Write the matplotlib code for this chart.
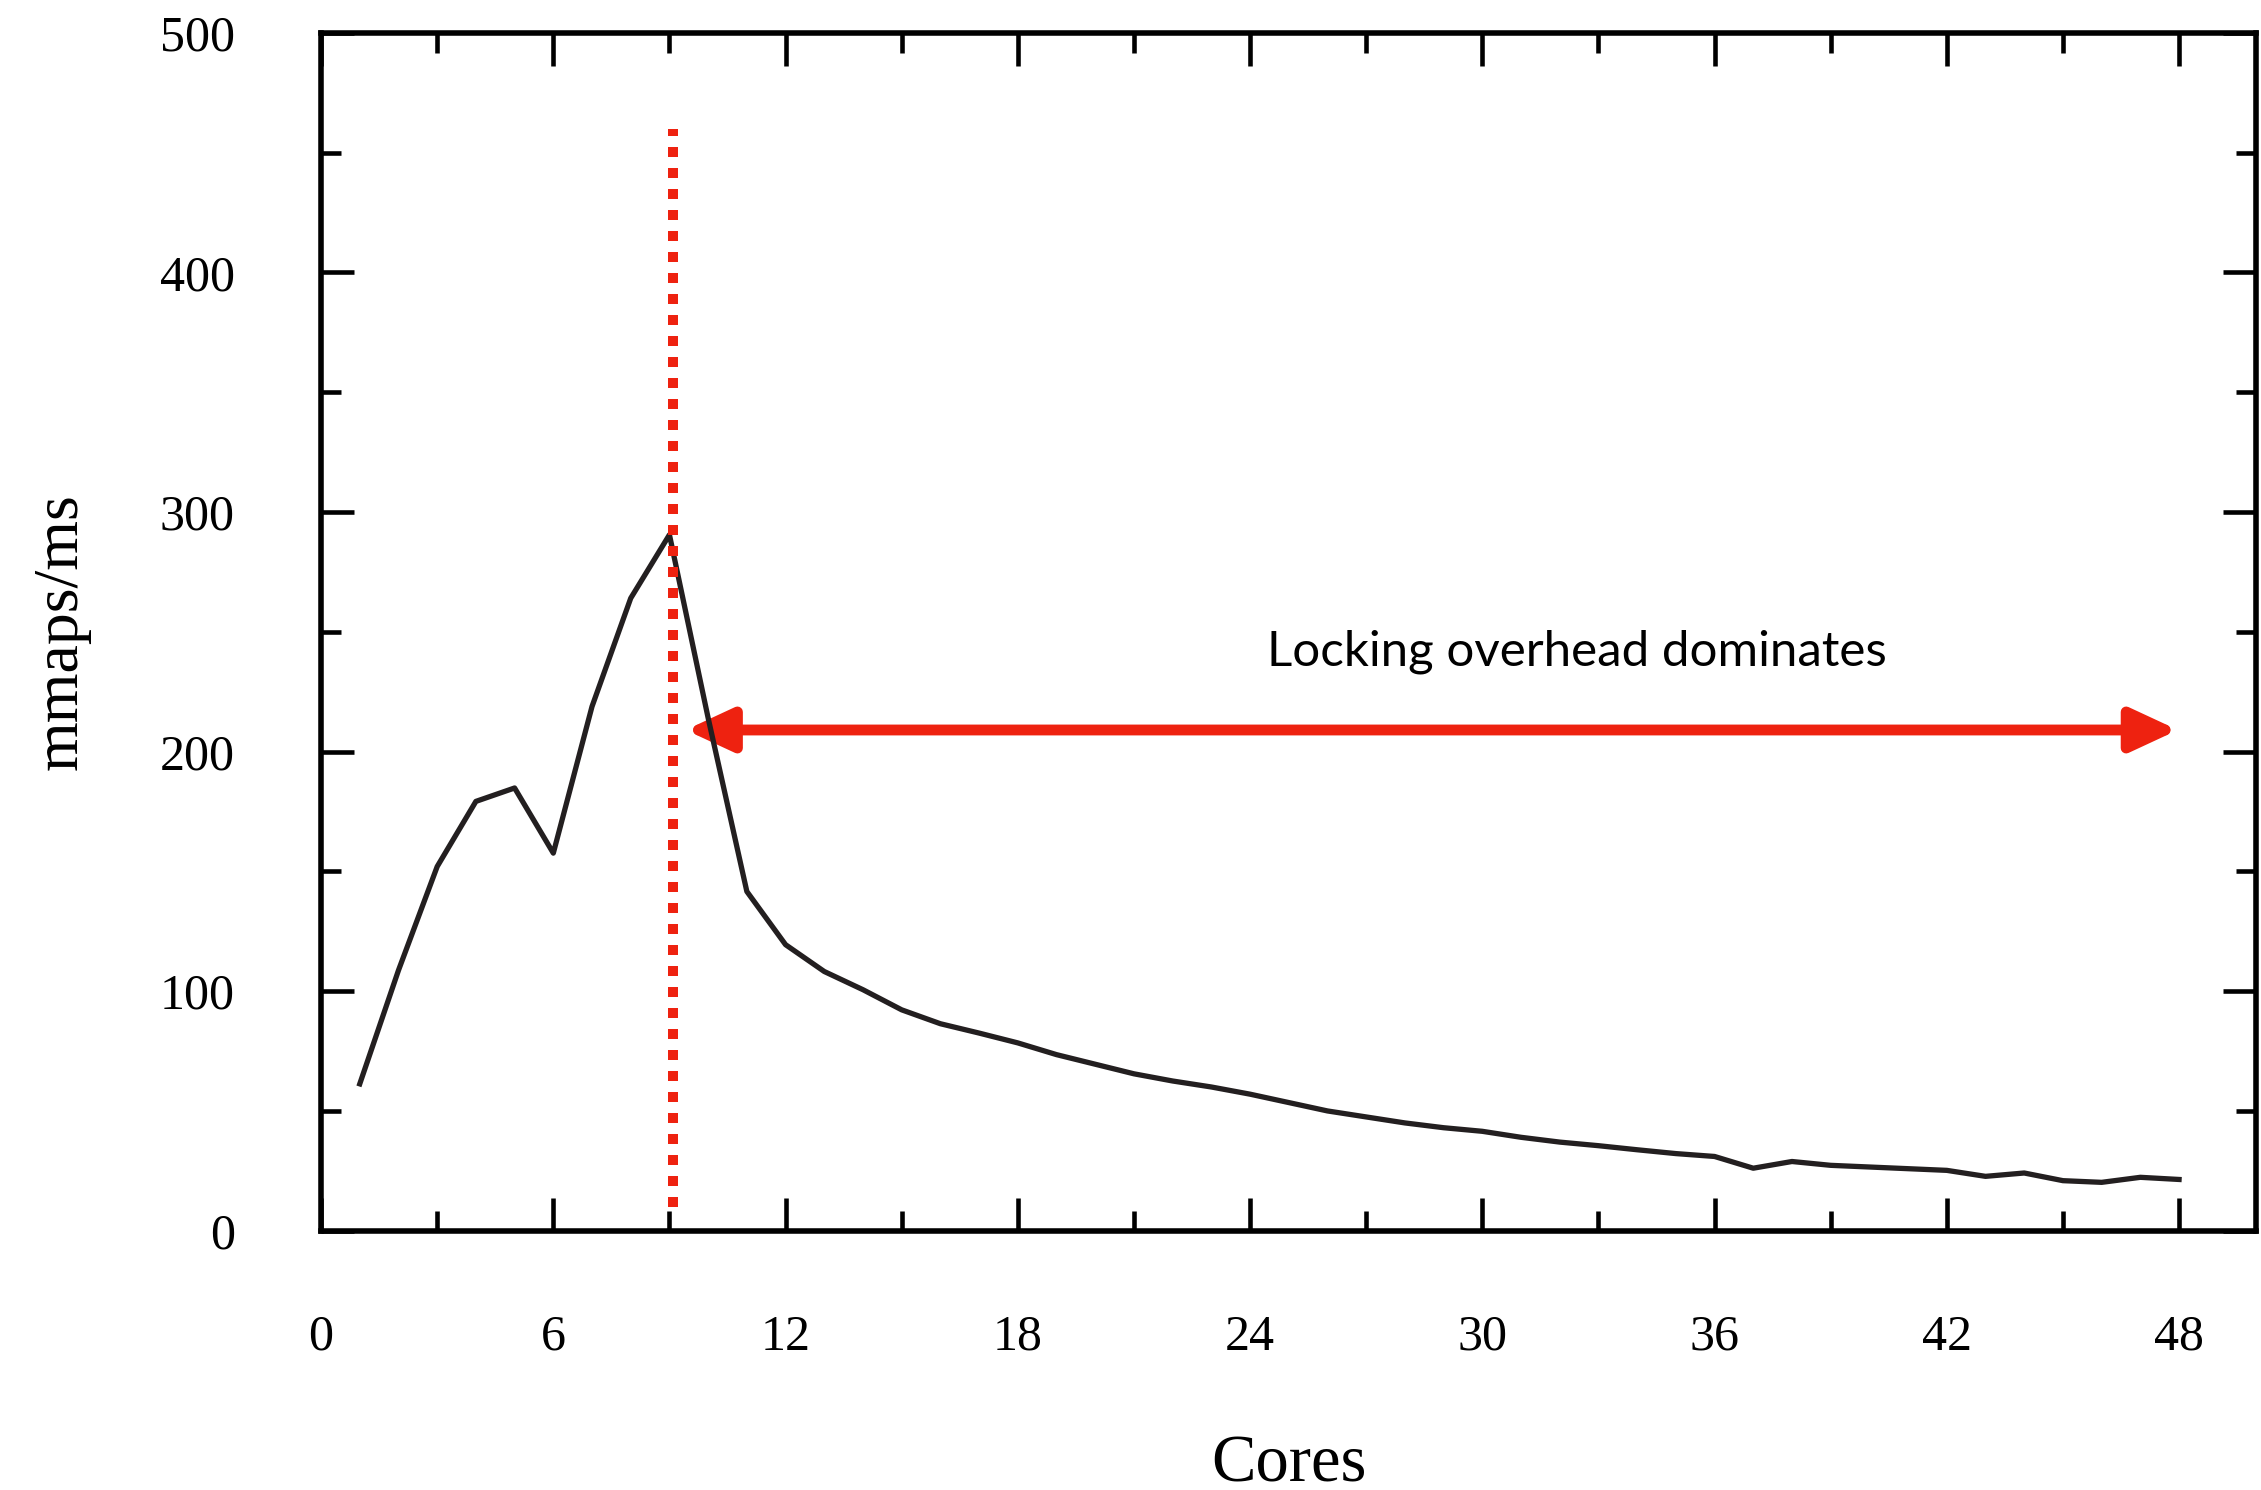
import matplotlib
matplotlib.use("Agg")
import matplotlib.pyplot as plt
from matplotlib.patches import FancyArrowPatch
from matplotlib.ticker import MultipleLocator

# mmap throughput per core count
cores = list(range(1, 49))
mmaps = [61.3, 108.7, 152, 179.2, 184.8, 157.6, 218.8, 264, 290.5, 214,
         141.6, 119.4, 108.2, 100.6, 92.2, 86.4, 82.5, 78.4, 73.5, 69.5,
         65.5, 62.5, 60, 57, 53.5, 50, 47.5, 45, 43, 41.5,
         39, 37, 35.5, 33.8, 32.2, 31, 26.1, 28.9, 27.3, 26.6,
         25.9, 25.2, 22.7, 24.1, 20.9, 20.2, 22.3, 21.4]

x_ticks = [0, 6, 12, 18, 24, 30, 36, 42, 48]
y_ticks = [0, 100, 200, 300, 400, 500]

peak_core = 9.1
arrow_y = 209
arrow_x = (9.42, 47.97)
note = "Locking overhead dominates"

red = "#ee2210"
serif = "Liberation Serif"

fig = plt.figure(figsize=(22.61, 14.90), dpi=100)
ax = fig.add_axes([0.142, 0.174, 0.856, 0.804])

ax.plot(cores, mmaps, color="#231f20", lw=3.8)

# dotted marker at the peak
ax.plot([peak_core, peak_core], [10, 460], color=red, lw=7.2,
        dashes=(1.0, 1.1), dash_capstyle="butt")

arr = FancyArrowPatch((arrow_x[0], arrow_y), (arrow_x[1], arrow_y),
                      arrowstyle="<|-|>,head_length=2.8,head_width=1.3",
                      mutation_scale=10, color=red, lw=7.8,
                      shrinkA=0, shrinkB=0)
ax.add_patch(arr)
ax.text(32.45, 236, note, ha="center", va="baseline",
        fontsize=35.5, family="Lato")

ax.set_xlim(0, 50)
ax.set_ylim(0, 500)
ax.set_xticks(x_ticks)
ax.set_yticks(y_ticks)
ax.xaxis.set_minor_locator(MultipleLocator(3))
ax.yaxis.set_minor_locator(MultipleLocator(50))

ax.tick_params(which="both", direction="in", top=True, right=True, width=3.3)
ax.tick_params(which="major", length=24)
ax.tick_params(which="minor", length=14.4)
ax.tick_params(axis="x", which="major", pad=60)
ax.tick_params(axis="y", which="major", pad=62)
for lab in ax.get_xticklabels() + ax.get_yticklabels():
    lab.set_family(serif)
    lab.set_fontsize(36)

for s in ax.spines.values():
    s.set_linewidth(4)

ax.set_xlabel("Cores", family=serif, fontsize=48)
ax.set_ylabel("mmaps/ms", family=serif, fontsize=46)
ax.xaxis.set_label_coords(0.5, -0.170)
ax.yaxis.set_label_coords(-0.149, 0.5)
ax.yaxis.label.set_va("top")
ax.xaxis.label.set_va("top")

fig.savefig("out.png", dpi=100)
